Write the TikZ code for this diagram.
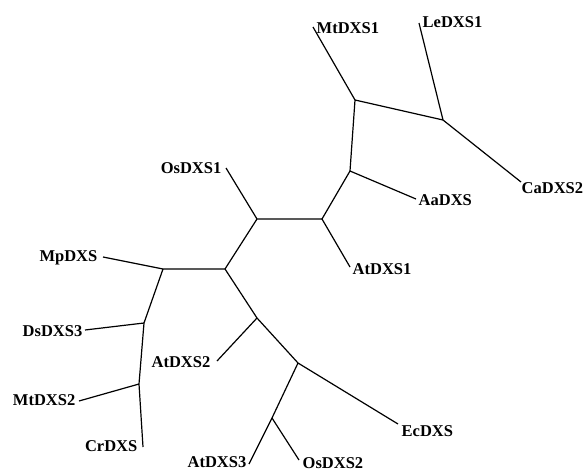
\documentclass[tikz,border=0pt]{standalone}
\usepackage{fontspec}
\setmainfont{Liberation Serif}
\usetikzlibrary{positioning}

\begin{document}
\begin{tikzpicture}[x=1pt,y=-1pt,
 branch/.style={line width=1.2pt,line join=round},
 taxon/.style={font=\bfseries\fontsize{16.5}{19}\selectfont,inner sep=1.5pt}]
 \useasboundingbox (0,0) rectangle (586,471);
 % inner nodes of the tree
 \coordinate (a) at (225,269); \coordinate (b) at (257,219);
 \coordinate (c) at (322,219); \coordinate (d) at (350,171);
 \coordinate (e) at (355,100); \coordinate (f) at (443,120);
 \coordinate (g) at (163,269); \coordinate (h) at (144,323);
 \coordinate (i) at (139,384); \coordinate (j) at (257,318);
 \coordinate (k) at (298,363); \coordinate (l) at (272,418);
 % leaf tips
 \coordinate (tMtI) at (313,27); \coordinate (tLeI) at (419,23);
 \coordinate (tCaII) at (521,182); \coordinate (tAa) at (416,199);
 \coordinate (tAtI) at (350,267); \coordinate (tOsI) at (226,168);
 \coordinate (tMp) at (103,257); \coordinate (tDsIII) at (85,330);
 \coordinate (tMtII) at (79,401); \coordinate (tCr) at (143,447);
 \coordinate (tAtII) at (217,361); \coordinate (tEc) at (398,424);
 \coordinate (tAtIII) at (249,464); \coordinate (tOsII) at (299,460);
 % labels
 \node[taxon,anchor=west] (MtDXS1) at (315,28) {MtDXS1};
 \node[taxon,anchor=west] (LeDXS1) at (421,22) {LeDXS1};
 \node[taxon,anchor=west] (CaDXS2) at (520,188) {CaDXS2};
 \node[taxon,anchor=west] (AaDXS) at (417,200) {AaDXS};
 \node[taxon,anchor=west] (AtDXS1) at (351,269) {AtDXS1};
 \node[taxon,anchor=east] (OsDXS1) at (223,168) {OsDXS1};
 \node[taxon,anchor=east] (MpDXS) at (99,258) {MpDXS};
 \node[taxon,anchor=east] (DsDXS3) at (84,331) {DsDXS3};
 \node[taxon,anchor=east] (MtDXS2) at (77,400) {MtDXS2};
 \node[taxon,anchor=east] (CrDXS) at (139,446) {CrDXS};
 \node[taxon,anchor=east] (AtDXS2) at (212,362) {AtDXS2};
 \node[taxon,anchor=west] (EcDXS) at (400,431) {EcDXS};
 \node[taxon,anchor=east] (AtDXS3) at (248,462) {AtDXS3};
 \node[taxon,anchor=west] (OsDXS2) at (301,463) {OsDXS2};
 % branches
 \draw[branch] (a)--(b) (b)--(tOsI) (b)--(c) (c)--(tAtI) (c)--(d) (d)--(tAa);
 \draw[branch] (d)--(e) (e)--(tMtI) (e)--(f) (f)--(tLeI) (f)--(tCaII);
 \draw[branch] (a)--(g) (g)--(tMp) (g)--(h) (h)--(tDsIII) (h)--(i) (i)--(tMtII) (i)--(tCr);
 \draw[branch] (a)--(j) (j)--(tAtII) (j)--(k) (k)--(tEc) (k)--(l) (l)--(tAtIII) (l)--(tOsII);
\end{tikzpicture}
\end{document}
